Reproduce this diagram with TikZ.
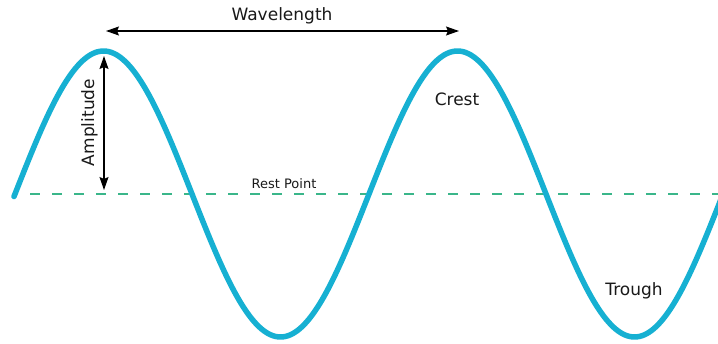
\documentclass[tikz,border=0pt]{standalone}
\usepackage{fontspec}
\newfontfamily\lab{DejaVu Sans}
\usetikzlibrary{arrows.meta}
\definecolor{wavecol}{RGB}{22,176,210}
\definecolor{restcol}{RGB}{58,182,138}
\definecolor{txtcol}{RGB}{25,25,25}
\tikzset{
  wavepath/.style={line width=5.5pt, color=wavecol, line cap=round, line join=round},
  restline/.style={line width=2.5pt, color=restcol, dash pattern=on 10pt off 12pt},
  dimarrow/.style={line width=1.2pt, black, {Stealth[length=13pt,width=9pt,inset=2pt]}-{Stealth[length=13pt,width=9pt,inset=2pt]}},
  biglabel/.style={font=\lab\fontsize{17}{20}\selectfont, text=txtcol, inner sep=0pt, anchor=base},
  smalllabel/.style={font=\lab\fontsize{13}{15}\selectfont, text=txtcol, inner sep=0pt, anchor=base}
}
\begin{document}
\begin{tikzpicture}[x=1pt,y=-1pt]
\useasboundingbox (0,0) rectangle (718,343);
\fill[white] (0,0) rectangle (718,343);
\begin{scope}
\clip (0,0) rectangle (718,343);
% rest line
\coordinate (restL) at (30,194);
\coordinate (restR) at (722,194);
\draw[restline] (restL) -- (restR);
% wave
\draw[wavepath] plot[domain=14:725, samples=300, smooth] (\x, {194-143*sin(((\x-15)/354)*360)});
\end{scope}
% wavelength arrow
\coordinate (wlL) at (106,31);
\coordinate (wlR) at (459,31);
\draw[dimarrow] (wlL) -- (wlR);
\node[biglabel] (wl) at (282,20) {Wavelength};
% amplitude arrow
\coordinate (amT) at (104,56);
\coordinate (amB) at (104,190);
\draw[dimarrow] (amT) -- (amB);
\node[biglabel, rotate=90] (am) at (94,122.5) {Amplitude};
% labels
\node[smalllabel] (rest) at (284,188) {Rest Point};
\node[biglabel] (crest) at (457,105) {Crest};
\node[biglabel] (trough) at (634,295) {Trough};
\end{tikzpicture}
\end{document}
